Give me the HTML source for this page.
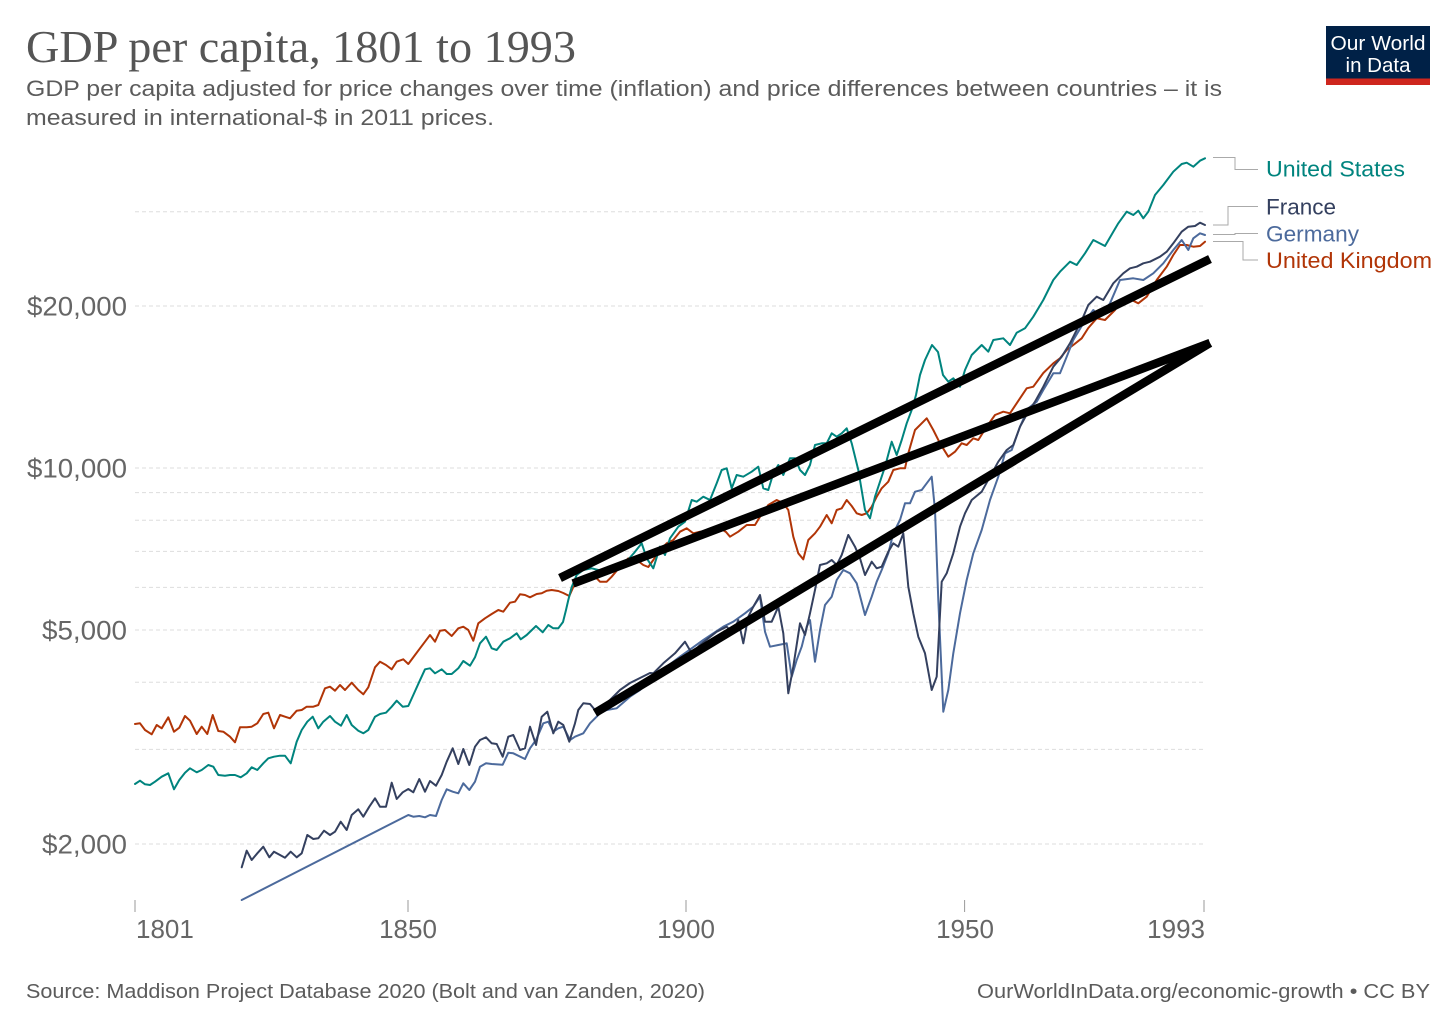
<!DOCTYPE html>
<html><head><meta charset="utf-8"><style>
html,body{margin:0;padding:0;background:#fff;}
svg{display:block;}
text{font-family:"Liberation Sans",sans-serif;}
</style></head><body>
<svg width="1456" height="1028" viewBox="0 0 1456 1028" xmlns="http://www.w3.org/2000/svg">
<rect width="1456" height="1028" fill="#fff"/>
<!-- Title -->
<text x="26" y="62" font-size="45" fill="#555" textLength="550" lengthAdjust="spacingAndGlyphs" style="font-family:'Liberation Serif',serif">GDP per capita, 1801 to 1993</text>
<text x="26" y="96" font-size="22" fill="#5b5b5b" textLength="1196" lengthAdjust="spacingAndGlyphs">GDP per capita adjusted for price changes over time (inflation) and price differences between countries – it is</text>
<text x="26" y="125" font-size="22" fill="#5b5b5b" textLength="468" lengthAdjust="spacingAndGlyphs">measured in international-$ in 2011 prices.</text>
<!-- Logo -->
<rect x="1326" y="26" width="104" height="59" fill="#002147"/>
<rect x="1326" y="78.5" width="104" height="6.5" fill="#ce261e"/>
<text x="1378" y="50" font-size="20.5" fill="#fff" text-anchor="middle" textLength="95" lengthAdjust="spacingAndGlyphs">Our World</text>
<text x="1378" y="72" font-size="20.5" fill="#fff" text-anchor="middle">in Data</text>
<!-- Gridlines -->
<g stroke="#ddd" stroke-width="1" stroke-dasharray="4,3">
<line x1="135" y1="211.7" x2="1204" y2="211.7"/>
<line x1="135" y1="306" x2="1204" y2="306"/>
<line x1="135" y1="468" x2="1204" y2="468"/>
<line x1="135" y1="492.6" x2="1204" y2="492.6"/>
<line x1="135" y1="520.2" x2="1204" y2="520.2"/>
<line x1="135" y1="551.4" x2="1204" y2="551.4"/>
<line x1="135" y1="587.4" x2="1204" y2="587.4"/>
<line x1="135" y1="630" x2="1204" y2="630"/>
<line x1="135" y1="682.2" x2="1204" y2="682.2"/>
<line x1="135" y1="749.4" x2="1204" y2="749.4"/>
<line x1="135" y1="844" x2="1204" y2="844"/>
</g>
<!-- Y labels -->
<g font-size="26.5" fill="#666" text-anchor="end">
<text x="127" y="315.5" textLength="100" lengthAdjust="spacingAndGlyphs">$20,000</text>
<text x="127" y="477.5" textLength="100" lengthAdjust="spacingAndGlyphs">$10,000</text>
<text x="127" y="639.5" textLength="85" lengthAdjust="spacingAndGlyphs">$5,000</text>
<text x="127" y="853.5" textLength="85" lengthAdjust="spacingAndGlyphs">$2,000</text>
</g>
<!-- X ticks -->
<g stroke="#999" stroke-width="1">
<line x1="135" y1="900" x2="135" y2="912"/>
<line x1="408" y1="900" x2="408" y2="912"/>
<line x1="686" y1="900" x2="686" y2="912"/>
<line x1="964.6" y1="900" x2="964.6" y2="912"/>
<line x1="1204" y1="900" x2="1204" y2="912"/>
</g>
<g font-size="26" fill="#666">
<text x="136" y="938">1801</text>
<text x="408" y="938" text-anchor="middle">1850</text>
<text x="686" y="938" text-anchor="middle">1900</text>
<text x="965" y="938" text-anchor="middle">1950</text>
<text x="1205" y="938" text-anchor="end">1993</text>
</g>
<!-- Series -->
<g fill="none" stroke-width="2" stroke-linejoin="round" stroke-linecap="round">
<polyline stroke="#b13507" points="135,724 140,723.3 145,730 151.7,734.3 156.7,725 161.7,728.3 168.3,717.3 174,731.7 179.3,727.7 185,716 190,720.7 196.7,734 201.7,726.7 207.3,734 212.7,715 218.3,731 223.3,731.7 230,736.7 235,742.3 240,727.3 246.7,727.3 251.7,726.7 257.3,723.3 263.3,714 268.3,712.7 274,728.3 280,715 285,716.7 290,718.3 296.7,710.7 301.7,710 306.7,706.7 313.3,706.7 318.3,705 325,688.3 330,686.7 335,690.7 340,685 345,690 351.7,682.7 358.3,690 363.3,694.3 368.3,687.3 375,667.3 380,661.7 386,665 391.7,669.3 396.7,661.7 403.3,659.3 408.3,664 415,655 420,648.3 425,641.7 430,635 435,641.7 440,630.7 445,630 451.7,636 458.3,628.3 463.3,626.7 468.3,630 473.3,640.7 478.3,623.3 485,618.3 491.7,614 498.3,610 503.3,611.7 510,602.7 515,601.7 520,594.3 525,595 530,597.3 536.7,594 541.7,593.3 546.7,590.7 551.7,590 558.3,591 563.3,593 569.3,596 573.3,587 580,578.3 591.7,573.3 600,581.7 606.7,581.7 611.7,576.7 620,566.7 628.3,558.3 636.7,560 643.3,565 648.3,567 653.3,560 660,550 666.7,543.3 673.3,540 680,531.7 686.7,528.3 693.3,533.3 700,531.7 706.7,531.7 713,533 720,528 726,532 730,536.7 738.3,531.7 746.7,525 755,525 760,516.7 768.3,505 776.7,500 783.3,503.3 788.3,510 793.3,536.7 798.3,553.3 803.3,559.3 808.3,540 815,533.3 820,526.7 826.7,515 831.7,523.3 836.7,510 841.7,508.3 846.7,500 851.7,506 856.7,513.3 861.7,515 866.7,513.3 871.7,506.7 876.7,496.7 881.7,488.3 888.3,481.7 893.3,470 900,468.3 905,468.3 908.3,453.3 915,430 921.7,423.3 926.7,418.3 933.3,430 940,443.3 948.3,456.7 955,451.7 961.7,443.3 966.7,445 973.3,438.3 978.3,440 986.7,426.7 995,415 1003.3,411.7 1010,413.3 1020,398.3 1026.7,388.3 1033.3,386.7 1043.3,373 1053.3,363.3 1060,358.3 1066.7,350 1073.3,345 1081.7,338.3 1088.3,328 1096.7,318.3 1105,320 1115,310 1123.3,298.3 1131.7,300 1138.3,303.3 1146.7,296.7 1156.7,280 1166.7,266.7 1173.3,255 1180,245 1186.7,245 1193.3,246.7 1200,246 1205,241.7"/>
<polyline stroke="#00847e" points="135,784 140,780.7 145,784.3 150,785 155,781.7 161.7,776.7 168.3,773.3 174,789.3 179.3,780 185,772.7 190,768.3 196.7,772.3 201.7,770 208.3,765 213.3,766.7 218.3,775 225,775.7 230,775 235,775 240.7,777.3 246.7,773.3 251.7,767.3 257.3,770 263.3,763.3 268.3,758.3 274,756.7 280,755.7 285,755.7 290.7,763.3 296.7,741.7 301.7,730 307.3,721.7 312.7,716.7 318.3,728.3 323.3,721.7 330,716 335,721.7 341,725.7 346.7,715 351.7,725 358.3,730.7 363.3,733.3 368.3,730 375,716.7 380,714 386,712.7 391.7,706.7 396.7,700.7 402.7,706.7 408.3,706 413.3,695 419.3,681.7 425,669.3 430,668.3 435,673.3 441.7,669.3 446.7,674 451.7,674 458.3,668.3 463.3,661 470,665.7 475,657.3 480,643.3 486,636.7 491.7,648.3 496.7,650 503.3,641.7 510,638.3 516.7,633.3 520.7,639.3 526.7,635 536,626 542.7,632.3 548.3,625 553.3,628.3 558.3,628.3 563,622 566,610 568.3,600 571.7,587 576.7,575 583.3,570 591.7,568.3 598.3,570 603.3,572 610,572 618,568 626,562 634,553 641.7,543.3 646.7,558.3 653.3,568.3 660,546.7 665,555 670,538.3 678.3,526.7 685,521.7 691.7,500 696.7,501.7 703.3,496.7 710,500 716.7,483.3 721.7,470 726.7,468.3 731.7,488.3 736.7,475 743.3,476.7 751.7,471.7 758.3,466.7 763.3,488.3 768.3,490 773.3,473.3 778.3,465 783.3,475 790,458.3 795,458.3 800,470 805,475 810,465 815,445 821.7,443.3 826.7,443.3 831.7,433.3 836.7,436.7 841.7,433.3 846.7,428.3 851.7,443.3 858.3,470 865,510 870,518.3 875,496.7 880,481.7 885,466.7 891.7,441.7 896.7,455 901.7,440 906.7,423.3 911.7,410 916,395 920,375 925,360 932,345 938,352 943,375 948.3,381.7 953.3,378.3 960,386.7 965,370 971.7,355 981.7,345 988.3,351.7 993.3,340 1003.3,338.3 1010,345 1016.7,332.7 1025,328.3 1033.3,316.7 1043.3,300 1053.3,280 1060,271.7 1070,261.7 1076.7,265 1085,253.3 1093.3,240 1105,246 1113.3,231.7 1118.3,223.3 1126.7,211.7 1133.3,215 1138.3,210.7 1143.3,218.3 1148.3,211.7 1155,195 1163.3,185 1173.3,171.7 1181.7,164 1186.7,162.7 1193.3,166.7 1200,160.7 1205,158.3"/>
<polyline stroke="#4c6a9c" points="241.7,900 408.3,815 413.3,816.7 419.3,816 425,817.3 430,815 436,816 441.7,800 446.7,789.3 452.7,791.7 458.3,793.3 463.3,783.3 469.3,790 475,781.7 480,766.7 486,763.3 491.7,764 502.7,764.7 508.3,752.7 513.3,753.3 525,759 530,748.3 536,740 543.3,723.3 548.3,721.7 553.3,731.7 558.3,728.3 563.3,726.7 570,740 575,736.7 583.3,733.3 590,723.3 600,713.3 606.7,710 616.7,708.3 630,696.7 640,690 650,680 666.7,666.7 680,656.7 691.7,648.3 703.3,640 713.3,633.3 723.3,626.7 733.3,621.7 745,613.3 753.3,606.7 760,596.7 765,631.7 770,646.7 778.3,645 786.7,643.3 791.7,676.7 796.7,660 801.7,646.7 806.7,626.7 810,620 815,661.7 820,630 825,605 831.7,596.7 836.7,580 843.3,570 850,573.3 856.7,583.3 865,615 871.7,596.7 876.7,581.7 881.7,570 888.3,553.3 893.3,533.3 900,520 905,503.3 910,503.3 915,491.7 921.7,490 926.7,483.3 931.7,476.7 935,510 938.3,600 943.3,711.7 948.3,690 953.3,653.3 960,613.3 966.7,580 973.3,553.3 981.7,530 990,500 998.3,476.7 1005,453.3 1011.7,450 1020,426.7 1028.3,408.3 1036.7,401.7 1043.3,390 1053.3,373.3 1060,373.3 1066.7,356.7 1073.3,340 1083.3,323.3 1093.3,310 1100,316.7 1110,303.3 1120,280 1133.3,278.3 1143.3,280 1153.3,273.3 1163.3,263.3 1173.3,250 1181.7,240 1188.3,250 1193.3,238.3 1200,233.3 1205,235"/>
<polyline stroke="#34405f" points="241.7,867.3 246.7,850.7 251.7,860 257.3,853.3 263.3,846.7 269.3,857.3 274,851.7 280,855 285,857.7 290.7,851.7 296.7,857.3 301.7,853.3 307.3,835 313.3,839 318.3,838.3 324,830.7 330,835 335,831.7 340.7,821.7 346.7,830 351.7,815 358.3,809.3 363.3,816.7 369.3,806.7 375,798.3 380,806.7 386,806.7 391.7,782.7 396.7,799 402.7,792.3 408.3,789 413.3,792.3 419.3,779 425,791.7 430,781 436,785.7 441.7,775 446.7,761.7 452.7,748.3 458.3,764 463.3,749 469.3,765 475,746.7 480,740 486,737.3 491.7,743.3 496.7,744 502.7,756.7 508.3,736.7 513.3,735 520,750 525,748.3 530,726.7 536,745 541.7,716.7 547.3,711.7 553.3,733.3 558.3,721.7 563.3,725 569.3,741.7 575,723.3 578.3,710 583.3,703.3 590,704 595,710 600,708 610,700 620,690 630,683 640,678 650,673 653.3,673.3 663.3,663.3 675,653.3 685,641.7 691.7,653.3 700,645 708.3,638.3 716.7,631.7 726.7,626.7 733.3,633.3 738.3,620 743.3,643.3 748.3,616.7 753.3,606.7 760,595 765,621.7 771.7,621.7 778.3,606.7 783.3,633.3 788.3,693.3 793.3,666.7 800,623.3 805,635 810,613.3 815,590 820,565 826.7,563.3 831.7,560 836.7,565 841.7,555 848.3,535 855,546.7 860,558.3 865,575 871.7,561.7 876.7,568.3 881.7,566.7 888.3,551.7 893.3,543.3 898.3,546.7 903.3,533.3 908.3,586.7 913.3,613.3 918.3,636.7 925,653.3 931.7,690 936.7,676.7 941.7,581.7 946.7,573.3 953.3,553.3 960,526.7 965,513.3 971.7,500 981.7,491.7 990,476.7 998.3,461.7 1006.7,450 1013.3,445 1020,426.7 1028.3,411.7 1035,401.7 1043.3,386.7 1053.3,366.7 1061.7,356.7 1070,343.3 1076.7,330 1083.3,316.7 1088.3,305 1096.7,296.7 1103.3,300 1113.3,283.3 1123.3,273.3 1130,268.3 1136.7,266.7 1143.3,263.3 1150,261.7 1160,256.7 1166.7,251.7 1173.3,243.3 1181.7,231.7 1188.3,226.7 1195,226 1200,222.7 1205,225"/>
</g>
<!-- Legend connectors -->
<g fill="none" stroke="#aaa" stroke-width="1">
<polyline points="1213,157.5 1235,157.5 1235,169.5 1258,169.5"/>
<polyline points="1213,225 1228,225 1228,206.5 1258,206.5"/>
<polyline points="1213,234.5 1235,234.5 1235,233.5 1258,233.5"/>
<polyline points="1213,241.5 1243,241.5 1243,260 1258,260"/>
</g>
<g font-size="22.5">
<text x="1266" y="176.5" fill="#00847e" textLength="139" lengthAdjust="spacingAndGlyphs">United States</text>
<text x="1266" y="214.5" fill="#34405f" textLength="70" lengthAdjust="spacingAndGlyphs">France</text>
<text x="1266" y="241.5" fill="#4c6a9c" textLength="93" lengthAdjust="spacingAndGlyphs">Germany</text>
<text x="1266" y="268" fill="#b13507" textLength="166" lengthAdjust="spacingAndGlyphs">United Kingdom</text>
</g>
<!-- Black trend lines -->
<g stroke="#000" stroke-width="8.5" stroke-linecap="butt">
<line x1="560" y1="578" x2="1210" y2="259"/>
<line x1="573" y1="583.5" x2="1210" y2="343"/>
<line x1="595" y1="713" x2="1210" y2="343"/>
</g>
<!-- Footer -->
<text x="26" y="998" font-size="20" fill="#5b5b5b" textLength="679" lengthAdjust="spacingAndGlyphs">Source: Maddison Project Database 2020 (Bolt and van Zanden, 2020)</text>
<text x="1430" y="998" font-size="20" fill="#5b5b5b" text-anchor="end" textLength="453" lengthAdjust="spacingAndGlyphs">OurWorldInData.org/economic-growth • CC BY</text>
</svg>
</body></html>
